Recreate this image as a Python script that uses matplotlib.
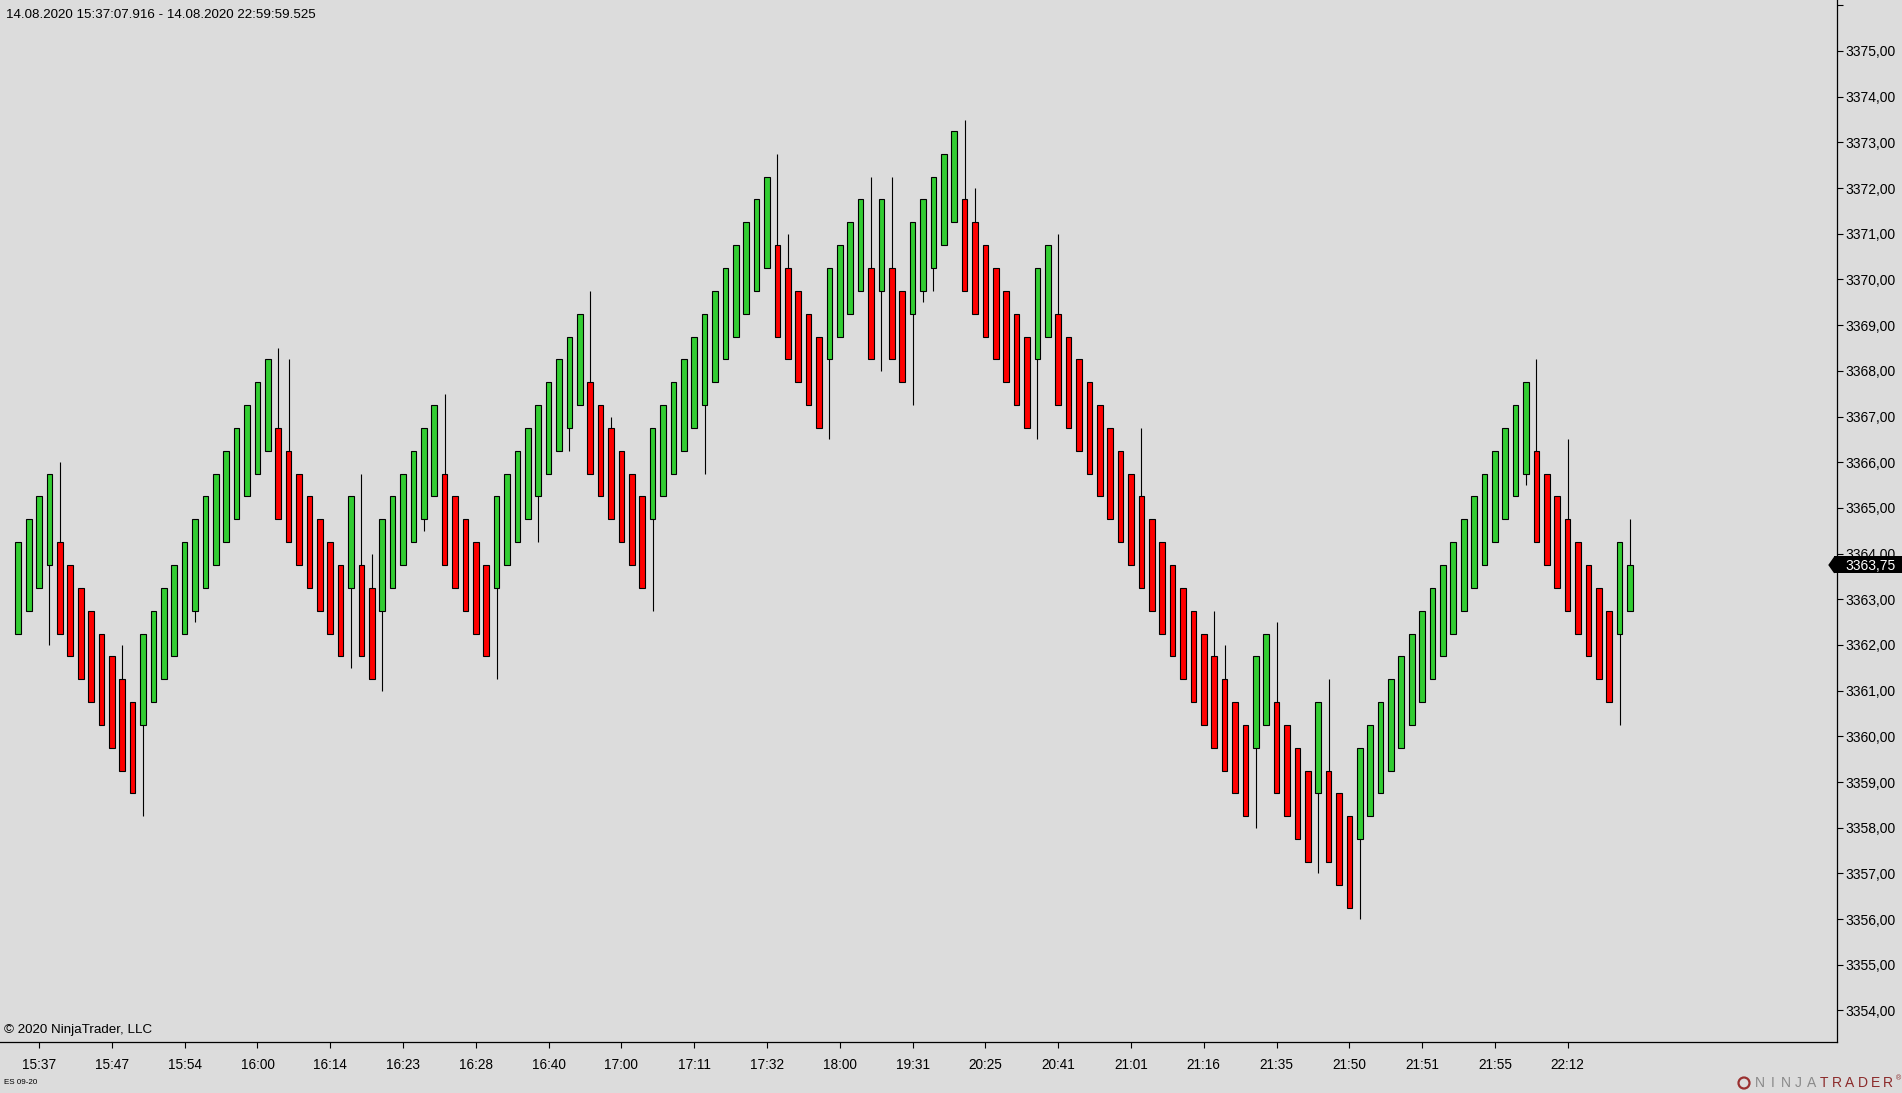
import matplotlib
matplotlib.use('Agg')
import numpy as np
import matplotlib.pyplot as plt
from matplotlib.patches import Rectangle, Polygon, Ellipse
from matplotlib.transforms import blended_transform_factory

plt.rcParams['font.family'] = ['Liberation Sans', 'DejaVu Sans']

# ES 09-20 renko bars, 14.08.2020
opens = [3362.25, 3362.75, 3363.25, 3363.75, 3364.25, 3363.75, 3363.25, 3362.75, 3362.25, 3361.75,
	3361.25, 3360.75, 3360.25, 3360.75, 3361.25, 3361.75, 3362.25, 3362.75, 3363.25, 3363.75,
	3364.25, 3364.75, 3365.25, 3365.75, 3366.25, 3366.75, 3366.25, 3365.75, 3365.25, 3364.75,
	3364.25, 3363.75, 3363.25, 3363.75, 3363.25, 3362.75, 3363.25, 3363.75, 3364.25, 3364.75,
	3365.25, 3365.75, 3365.25, 3364.75, 3364.25, 3363.75, 3363.25, 3363.75, 3364.25, 3364.75,
	3365.25, 3365.75, 3366.25, 3366.75, 3367.25, 3367.75, 3367.25, 3366.75, 3366.25, 3365.75,
	3365.25, 3364.75, 3365.25, 3365.75, 3366.25, 3366.75, 3367.25, 3367.75, 3368.25, 3368.75,
	3369.25, 3369.75, 3370.25, 3370.75, 3370.25, 3369.75, 3369.25, 3368.75, 3368.25, 3368.75,
	3369.25, 3369.75, 3370.25, 3369.75, 3370.25, 3369.75, 3369.25, 3369.75, 3370.25, 3370.75,
	3371.25, 3371.75, 3371.25, 3370.75, 3370.25, 3369.75, 3369.25, 3368.75, 3368.25, 3368.75,
	3369.25, 3368.75, 3368.25, 3367.75, 3367.25, 3366.75, 3366.25, 3365.75, 3365.25, 3364.75,
	3364.25, 3363.75, 3363.25, 3362.75, 3362.25, 3361.75, 3361.25, 3360.75, 3360.25, 3359.75,
	3360.25, 3360.75, 3360.25, 3359.75, 3359.25, 3358.75, 3359.25, 3358.75, 3358.25, 3357.75,
	3358.25, 3358.75, 3359.25, 3359.75, 3360.25, 3360.75, 3361.25, 3361.75, 3362.25, 3362.75,
	3363.25, 3363.75, 3364.25, 3364.75, 3365.25, 3365.75, 3366.25, 3365.75, 3365.25, 3364.75,
	3364.25, 3363.75, 3363.25, 3362.75, 3362.25, 3362.75]

closes = [3364.25, 3364.75, 3365.25, 3365.75, 3362.25, 3361.75, 3361.25, 3360.75, 3360.25, 3359.75,
	3359.25, 3358.75, 3362.25, 3362.75, 3363.25, 3363.75, 3364.25, 3364.75, 3365.25, 3365.75,
	3366.25, 3366.75, 3367.25, 3367.75, 3368.25, 3364.75, 3364.25, 3363.75, 3363.25, 3362.75,
	3362.25, 3361.75, 3365.25, 3361.75, 3361.25, 3364.75, 3365.25, 3365.75, 3366.25, 3366.75,
	3367.25, 3363.75, 3363.25, 3362.75, 3362.25, 3361.75, 3365.25, 3365.75, 3366.25, 3366.75,
	3367.25, 3367.75, 3368.25, 3368.75, 3369.25, 3365.75, 3365.25, 3364.75, 3364.25, 3363.75,
	3363.25, 3366.75, 3367.25, 3367.75, 3368.25, 3368.75, 3369.25, 3369.75, 3370.25, 3370.75,
	3371.25, 3371.75, 3372.25, 3368.75, 3368.25, 3367.75, 3367.25, 3366.75, 3370.25, 3370.75,
	3371.25, 3371.75, 3368.25, 3371.75, 3368.25, 3367.75, 3371.25, 3371.75, 3372.25, 3372.75,
	3373.25, 3369.75, 3369.25, 3368.75, 3368.25, 3367.75, 3367.25, 3366.75, 3370.25, 3370.75,
	3367.25, 3366.75, 3366.25, 3365.75, 3365.25, 3364.75, 3364.25, 3363.75, 3363.25, 3362.75,
	3362.25, 3361.75, 3361.25, 3360.75, 3360.25, 3359.75, 3359.25, 3358.75, 3358.25, 3361.75,
	3362.25, 3358.75, 3358.25, 3357.75, 3357.25, 3360.75, 3357.25, 3356.75, 3356.25, 3359.75,
	3360.25, 3360.75, 3361.25, 3361.75, 3362.25, 3362.75, 3363.25, 3363.75, 3364.25, 3364.75,
	3365.25, 3365.75, 3366.25, 3366.75, 3367.25, 3367.75, 3364.25, 3363.75, 3363.25, 3362.75,
	3362.25, 3361.75, 3361.25, 3360.75, 3364.25, 3363.75]

highs = [3364.25, 3364.75, 3365.25, 3365.75, 3366.00, 3363.75, 3363.25, 3362.75, 3362.25, 3361.75,
	3362.00, 3360.75, 3362.25, 3362.75, 3363.25, 3363.75, 3364.25, 3364.75, 3365.25, 3365.75,
	3366.25, 3366.75, 3367.25, 3367.75, 3368.25, 3368.50, 3368.25, 3365.75, 3365.25, 3364.75,
	3364.25, 3363.75, 3365.25, 3365.75, 3364.00, 3364.75, 3365.25, 3365.75, 3366.25, 3366.75,
	3367.25, 3367.50, 3365.25, 3364.75, 3364.25, 3363.75, 3365.25, 3365.75, 3366.25, 3366.75,
	3367.25, 3367.75, 3368.25, 3368.75, 3369.25, 3369.75, 3367.25, 3367.00, 3366.25, 3365.75,
	3365.25, 3366.75, 3367.25, 3367.75, 3368.25, 3368.75, 3369.25, 3369.75, 3370.25, 3370.75,
	3371.25, 3371.75, 3372.25, 3372.75, 3371.00, 3369.75, 3369.25, 3368.75, 3370.25, 3370.75,
	3371.25, 3371.75, 3372.25, 3371.75, 3372.25, 3369.75, 3371.25, 3371.75, 3372.25, 3372.75,
	3373.25, 3373.50, 3372.00, 3370.75, 3370.25, 3369.75, 3369.25, 3368.75, 3370.25, 3370.75,
	3371.00, 3368.75, 3368.25, 3367.75, 3367.25, 3366.75, 3366.25, 3365.75, 3366.75, 3364.75,
	3364.25, 3363.75, 3363.25, 3362.75, 3362.25, 3362.75, 3362.00, 3360.75, 3360.25, 3361.75,
	3362.25, 3362.50, 3360.25, 3359.75, 3359.25, 3360.75, 3361.25, 3358.75, 3358.25, 3359.75,
	3360.25, 3360.75, 3361.25, 3361.75, 3362.25, 3362.75, 3363.25, 3363.75, 3364.25, 3364.75,
	3365.25, 3365.75, 3366.25, 3366.75, 3367.25, 3367.75, 3368.25, 3365.75, 3365.25, 3366.50,
	3364.25, 3363.75, 3363.25, 3362.75, 3364.25, 3364.75]

lows = [3362.25, 3362.75, 3363.25, 3362.00, 3362.25, 3361.75, 3361.25, 3360.75, 3360.25, 3359.75,
	3359.25, 3358.75, 3358.25, 3360.75, 3361.25, 3361.75, 3362.25, 3362.50, 3363.25, 3363.75,
	3364.25, 3364.75, 3365.25, 3365.75, 3366.25, 3364.75, 3364.25, 3363.75, 3363.25, 3362.75,
	3362.25, 3361.75, 3361.50, 3361.75, 3361.25, 3361.00, 3363.25, 3363.75, 3364.25, 3364.50,
	3365.25, 3363.75, 3363.25, 3362.75, 3362.25, 3361.75, 3361.25, 3363.75, 3364.25, 3364.75,
	3364.25, 3365.75, 3366.25, 3366.25, 3367.25, 3365.75, 3365.25, 3364.75, 3364.25, 3363.75,
	3363.25, 3362.75, 3365.25, 3365.75, 3366.25, 3366.75, 3365.75, 3367.75, 3368.25, 3368.75,
	3369.25, 3369.75, 3370.25, 3368.75, 3368.25, 3367.75, 3367.25, 3366.75, 3366.50, 3368.75,
	3369.25, 3369.75, 3368.25, 3368.00, 3368.25, 3367.75, 3367.25, 3369.50, 3369.75, 3370.75,
	3371.25, 3369.75, 3369.25, 3368.75, 3368.25, 3367.75, 3367.25, 3366.75, 3366.50, 3368.75,
	3367.25, 3366.75, 3366.25, 3365.75, 3365.25, 3364.75, 3364.25, 3363.75, 3363.25, 3362.75,
	3362.25, 3361.75, 3361.25, 3360.75, 3360.25, 3359.75, 3359.25, 3358.75, 3358.25, 3358.00,
	3360.25, 3358.75, 3358.25, 3357.75, 3357.25, 3357.00, 3357.25, 3356.75, 3356.25, 3356.00,
	3358.25, 3358.75, 3359.25, 3359.75, 3360.25, 3360.75, 3361.25, 3361.75, 3362.25, 3362.75,
	3363.25, 3363.75, 3364.25, 3364.75, 3365.25, 3365.50, 3364.25, 3363.75, 3363.25, 3362.75,
	3362.25, 3361.75, 3361.25, 3360.75, 3360.25, 3362.75]

time_labels = ['15:37', '15:47', '15:54', '16:00', '16:14', '16:23', '16:28', '16:40', '17:00', '17:11', '17:32',
	'18:00', '19:31', '20:25', '20:41', '21:01', '21:16', '21:35', '21:50', '21:51', '21:55', '22:12']
label_bars = [2, 9, 16, 23, 30, 37, 44, 51, 58, 65, 72, 79, 86, 93, 100, 107, 114, 121, 128, 135, 142, 149]

price_ticks = np.arange(3354, 3377)

W, H = 1902, 1093
bg = '#DCDCDC'
up_color = '#32CD32'
down_color = '#FF0000'

fig = plt.figure(figsize=(W / 100, H / 100), dpi=100, facecolor=bg)
ax = fig.add_axes([0, 51 / H, 1837 / W, 1042 / H], facecolor=bg)

x = np.arange(len(opens))
o = np.array(opens)
c = np.array(closes)
colors = [up_color if cc >= oo else down_color for oo, cc in zip(o, c)]

# wicks first, bodies on top
ax.vlines(x, lows, highs, color='black', linewidth=0.8, zorder=1)
ax.bar(x, c - o, bottom=o, width=0.54, color=colors, edgecolor='black', linewidth=0.8, zorder=2)

ax.set_xlim(-1.76, 174.9)
ax.set_ylim(3353.31, 3376.116)

ax.spines['top'].set_visible(False)
ax.spines['left'].set_visible(False)
ax.spines['right'].set_linewidth(0.9)
ax.spines['bottom'].set_linewidth(0.9)

ax.yaxis.tick_right()
ax.set_yticks(price_ticks)
ax.set_yticklabels(['' if p == 3376 else ('%.2f' % p).replace('.', ',') for p in price_ticks])
ax.set_xticks(label_bars)
ax.set_xticklabels(time_labels)
ax.tick_params(axis='y', direction='out', length=4, width=0.8, pad=1.8, labelsize=10, colors='black')
ax.tick_params(axis='x', direction='out', length=4, width=0.8, pad=7.5, labelsize=9.8, colors='black')

# last price marker on the price axis
trans = blended_transform_factory(ax.transAxes, ax.transData)
last = closes[-1]
bh = 17 / 45.69
ax.add_patch(Rectangle((0.9985, last - bh / 2), 70 / 1837, bh, transform=trans,
	facecolor='black', edgecolor='none', clip_on=False, zorder=5))
ax.add_patch(Polygon([(0.9985, last + bh / 2), (0.9985 - 6 / 1837, last), (0.9985, last - bh / 2)],
	closed=True, transform=trans, facecolor='black', edgecolor='none', clip_on=False, zorder=5))
ax.text(1 + 8 / 1837, last - 0.02, ('%.2f' % last).replace('.', ','), transform=trans, color='white',
	fontsize=10, ha='left', va='center', clip_on=False, zorder=6)

# header / footer texts
fig.text(6 / W, 1 - 15.5 / H, '14.08.2020 15:37:07.916 - 14.08.2020 22:59:59.525',
	fontsize=9.6, ha='left', va='center', color='black')
fig.text(4.5 / W, 1 - 1029.5 / H, '\u00a9 2020 NinjaTrader, LLC', fontsize=9.6, ha='left', va='center', color='black')
fig.text(4.5 / W, 1 - 1083 / H, 'ES 09-20', fontsize=5.8, ha='left', va='center', color='black')

# NinjaTrader logo
fig.patches.append(Ellipse((1744 / W, 1 - 1083 / H), 11 / W, 11 / H, transform=fig.transFigure,
	facecolor='none', edgecolor='#9a3030', linewidth=1.6))
logo = 'NINJATRADER'
for i, ch in enumerate(logo):
	col = '#8a8a8a' if i < 5 else '#8b2a2a'
	fig.text((1760 + 12.8 * i) / W, 1 - 1083 / H, ch, fontsize=10, ha='center', va='center', color=col)
fig.text(1899 / W, 1 - 1079 / H, '\u00ae', fontsize=5, ha='center', va='center', color='#8b2a2a')

plt.savefig('out.png', dpi=100, facecolor=bg)
